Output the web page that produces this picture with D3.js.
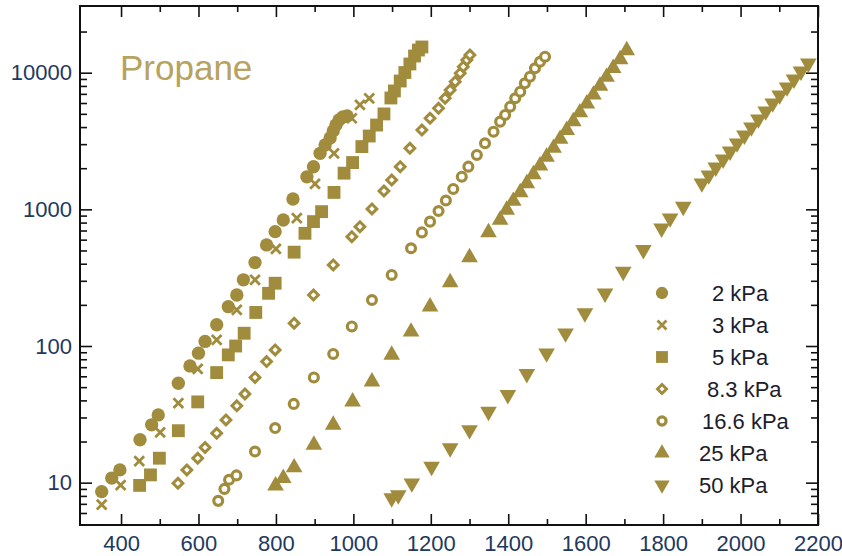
<!DOCTYPE html>
<html>
<head>
<meta charset="utf-8">
<script src="https://cdn.jsdelivr.net/npm/d3@7"></script>
<style>
  body { margin: 0; background: #fff; }
  svg { display: block; font-family: "Liberation Sans", Arial, sans-serif; }
</style>
</head>
<body>
<div id="chart"></div>
<script>
// Series values (x: temperature-like axis, y: log axis)
const x2kPa = [350, 376, 397, 449, 479, 496, 548, 578, 600, 617, 647, 677, 699, 716, 746, 776, 798, 819, 844, 880, 897, 914, 927, 940, 948, 955, 963, 973, 984];
const y2kPa = [8.6, 10.8, 12.4, 20.6, 26.5, 31.3, 53.4, 71.5, 88.6, 108, 143, 194, 236, 305, 408, 549, 687, 836, 1190, 1730, 2050, 2570, 2960, 3330, 3750, 4140, 4510, 4740, 4820];

const x3kPa = [350, 399, 447, 501, 548, 598, 647, 699, 746, 800, 854, 901, 950, 996, 1017, 1041];
const y3kPa = [6.9, 9.6, 14.4, 23.3, 38.2, 68, 111, 184, 305, 513, 861, 1535, 2570, 4640, 5810, 6480];

const x5kPa = [448, 476, 499, 548, 598, 647, 677, 696, 718, 748, 781, 798, 847, 875, 897, 918, 950, 976, 998, 1022, 1041, 1060, 1079, 1097, 1106, 1121, 1133, 1146, 1158, 1168, 1177];
const y5kPa = [9.55, 11.4, 15.1, 24, 39, 63.9, 86.1, 100, 124, 176, 243, 288, 486, 668, 813, 962, 1330, 1840, 2200, 2880, 3440, 4140, 4990, 6530, 7350, 8690, 10030, 11580, 13250, 14650, 15420];

const x8kPa = [547, 570, 598, 617, 647, 671, 699, 720, 746, 776, 798, 847, 897, 948, 996, 1017, 1048, 1079, 1099, 1121, 1146, 1177, 1198, 1220, 1237, 1250, 1263, 1276, 1284, 1293, 1301];
const y8kPa = [9.9, 12.4, 15.1, 18.1, 23, 28.8, 36.5, 44.6, 58.9, 76.9, 93.6, 147, 236, 392, 631, 747, 1007, 1363, 1641, 2053, 2798, 3810, 4640, 5491, 6497, 7468, 8597, 9900, 11070, 12390, 13470];

const x16kPa = [651, 667, 679, 698, 746, 798, 846, 898, 948, 996, 1048, 1099, 1149, 1177, 1198, 1220, 1239, 1258, 1280, 1297, 1319, 1340, 1362, 1379, 1392, 1405, 1418, 1431, 1443, 1456, 1469, 1482, 1495];
const y16kPa = [7.36, 9.0, 10.5, 11.3, 16.9, 25.1, 37.7, 58.9, 87.5, 139, 217, 331, 519, 678, 813, 973, 1161, 1410, 1734, 2053, 2500, 3045, 3701, 4383, 4906, 5641, 6497, 7261, 8365, 9350, 10770, 12030, 13090];

const x25kPa = [799, 819, 847, 898, 948, 998, 1048, 1099, 1149, 1198, 1250, 1300, 1349, 1379, 1396, 1413, 1431, 1448, 1465, 1482, 1499, 1517, 1534, 1551, 1568, 1585, 1603, 1620, 1637, 1654, 1671, 1689, 1706];
const y25kPa = [9.5, 10.8, 12.9, 18.9, 26.5, 39.2, 54.9, 86.1, 127, 194, 292, 445, 678, 836, 990, 1150, 1330, 1550, 1800, 2090, 2420, 2810, 3270, 3800, 4400, 5110, 5940, 6890, 8000, 9300, 10800, 12500, 14550];

const x50kPa = [1099, 1116, 1151, 1202, 1250, 1300, 1349, 1399, 1448, 1499, 1548, 1598, 1650, 1697, 1749, 1796, 1818, 1852, 1900, 1918, 1936, 1955, 1973, 1991, 2010, 2028, 2046, 2065, 2083, 2101, 2120, 2138, 2156, 2175];
const y50kPa = [7.7, 8.1, 9.9, 13.1, 17.9, 24.3, 33.1, 43.9, 62.5, 88.6, 124, 174, 243, 350, 505, 727, 861, 1047, 1553, 1776, 2032, 2325, 2660, 3045, 3484, 3988, 4563, 5221, 5975, 6836, 7823, 8951, 10240, 11720];

const seriesLabels = ['2 kPa', '3 kPa', '5 kPa', '8.3 kPa', '16.6 kPa', '25 kPa', '50 kPa'];
const xTickValues = [400, 600, 800, 1000, 1200, 1400, 1600, 1800, 2000, 2200];
const xMinorValues = [500, 700, 900, 1100, 1300, 1500, 1700, 1900, 2100];
const yTickValues = [10, 100, 1000, 10000];
const chartTitle = 'Propane';

const markColor = '#a08c3c';
const titleColor = '#b7a260';
const tickTextColor = '#22395f';

const W = 842, H = 556;
const plot = { left: 80, right: 818, top: 6, bottom: 525 };

const svg = d3.select('#chart').append('svg')
    .attr('width', W)
    .attr('height', H);

const x = d3.scaleLinear()
    .domain([294, 2200])
    .range([plot.left, plot.right]);

const y = d3.scaleLog()
    .domain([4.9, 30760])
    .range([plot.bottom, plot.top]);

// minor log ticks (2..9 per decade), skipping the ones sitting on the frame
const yMinorValues = [];
[1, 10, 100, 1000, 10000].forEach(dec => {
    for (let k = 2; k <= 9; k++) {
        const v = k * dec;
        const py = y(v);
        if (py > plot.top + 4 && py < plot.bottom - 4) yMinorValues.push(v);
    }
});

// custom marker shapes
const symX = {
    draw(ctx, size) {
        const r = Math.sqrt(size) / 2;
        ctx.moveTo(-r, -r); ctx.lineTo(r, r);
        ctx.moveTo(-r, r); ctx.lineTo(r, -r);
    }
};
const symDiamond = {
    draw(ctx, size) {
        const r = Math.sqrt(size) / 2;
        ctx.moveTo(0, -r); ctx.lineTo(r, 0); ctx.lineTo(0, r); ctx.lineTo(-r, 0);
        ctx.closePath();
    }
};

const styles = [
    { type: d3.symbolCircle, size: 140, fill: markColor, stroke: 'none', sw: 0, rot: 0 },
    { type: symX, size: 95, fill: 'none', stroke: markColor, sw: 2.8, rot: 0 },
    { type: d3.symbolSquare, size: 165, fill: markColor, stroke: 'none', sw: 0, rot: 0 },
    { type: symDiamond, size: 95, fill: '#fff', stroke: markColor, sw: 3, rot: 0 },
    { type: d3.symbolCircle, size: 62, fill: '#fff', stroke: markColor, sw: 3.2, rot: 0 },
    { type: d3.symbolTriangle, size: 120, fill: markColor, stroke: 'none', sw: 0, rot: 0 },
    { type: d3.symbolTriangle, size: 120, fill: markColor, stroke: 'none', sw: 0, rot: 180 }
];

const seriesX = [x2kPa, x3kPa, x5kPa, x8kPa, x16kPa, x25kPa, x50kPa];
const seriesY = [y2kPa, y3kPa, y5kPa, y8kPa, y16kPa, y25kPa, y50kPa];
const series = seriesLabels.map((label, i) => ({
    label,
    style: styles[i],
    points: seriesX[i].map((xv, j) => ({ x: xv, y: seriesY[i][j] }))
}));

// Axes (ticks point inward)
function styleAxis(g) {
    g.select('.domain').remove();
    g.selectAll('.tick line').attr('stroke', '#111').attr('stroke-width', 1.6);
    g.selectAll('.tick text')
        .attr('fill', tickTextColor)
        .style('font-size', '22px')
        .style('font-family', '"Liberation Sans", Arial, sans-serif');
}

svg.append('g')
    .attr('transform', `translate(0,${plot.bottom})`)
    .call(d3.axisBottom(x).tickValues(xTickValues).tickSize(-11).tickPadding(10).tickFormat(d3.format('d')))
    .call(styleAxis);
svg.append('g')
    .attr('transform', `translate(0,${plot.bottom})`)
    .call(d3.axisBottom(x).tickValues(xMinorValues).tickSize(-6).tickFormat(''))
    .call(styleAxis);
svg.append('g')
    .attr('transform', `translate(0,${plot.top})`)
    .call(d3.axisTop(x).tickValues(xTickValues).tickSize(-11).tickFormat(''))
    .call(styleAxis);
svg.append('g')
    .attr('transform', `translate(0,${plot.top})`)
    .call(d3.axisTop(x).tickValues(xMinorValues).tickSize(-6).tickFormat(''))
    .call(styleAxis);

svg.append('g')
    .attr('transform', `translate(${plot.left},0)`)
    .call(d3.axisLeft(y).tickValues(yTickValues).tickSize(-12).tickPadding(8).tickFormat(d3.format('d')))
    .call(styleAxis);
svg.append('g')
    .attr('transform', `translate(${plot.left},0)`)
    .call(d3.axisLeft(y).tickValues(yMinorValues).tickSize(-7).tickFormat(''))
    .call(styleAxis);
svg.append('g')
    .attr('transform', `translate(${plot.right},0)`)
    .call(d3.axisRight(y).tickValues(yTickValues).tickSize(-12).tickFormat(''))
    .call(styleAxis);
svg.append('g')
    .attr('transform', `translate(${plot.right},0)`)
    .call(d3.axisRight(y).tickValues(yMinorValues).tickSize(-7).tickFormat(''))
    .call(styleAxis);

// Frame
svg.append('rect')
    .attr('x', plot.left)
    .attr('y', plot.top)
    .attr('width', plot.right - plot.left)
    .attr('height', plot.bottom - plot.top)
    .attr('fill', 'none')
    .attr('stroke', '#111')
    .attr('stroke-width', 2);

// Title inside plot
svg.append('text')
    .attr('x', 120)
    .attr('y', 80)
    .attr('fill', titleColor)
    .style('font-size', '35px')
    .text(chartTitle);

// Data marks
const layers = svg.append('g');
series.forEach(s => {
    const sym = d3.symbol().type(s.style.type).size(s.style.size);
    layers.append('g')
        .selectAll('path')
        .data(s.points)
        .join('path')
        .attr('transform', d => `translate(${x(d.x)},${y(d.y)}) rotate(${s.style.rot})`)
        .attr('d', sym)
        .attr('fill', s.style.fill)
        .attr('stroke', s.style.stroke)
        .attr('stroke-width', s.style.sw);
});

// Legend
const legendTextX = [712, 712, 712, 707, 702, 699, 699];
const legend = svg.append('g');
series.forEach((s, i) => {
    const ly = 293 + i * 32;
    legend.append('path')
        .attr('transform', `translate(662,${ly}) rotate(${s.style.rot})`)
        .attr('d', d3.symbol().type(s.style.type).size(s.style.size * 0.85)())
        .attr('fill', s.style.fill)
        .attr('stroke', s.style.stroke)
        .attr('stroke-width', s.style.sw);
    legend.append('text')
        .attr('x', legendTextX[i])
        .attr('y', ly)
        .attr('dy', '0.36em')
        .attr('fill', '#1d1d2b')
        .style('font-size', '22px')
        .text(s.label);
});
</script>
</body>
</html>
